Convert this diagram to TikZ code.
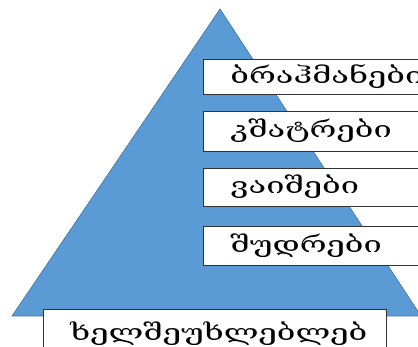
\documentclass[tikz,border=0pt]{standalone}
\usepackage{fontspec}
\newfontfamily\geofont[Script=Georgian, FakeStretch=1.45]{DejaVu Serif}
\definecolor{pyrblue}{HTML}{5B9BD5}
\definecolor{pyredge}{HTML}{41719C}
\tikzset{
  caste/.style={draw=black!80, line width=0.9pt, fill=white, anchor=west,
    minimum height=#1, text width=186pt, inner xsep=27pt, align=left,
    font=\geofont\fontsize{22.5pt}{24pt}\selectfont},
  caste/.default=36pt
}

\begin{document}
\begin{tikzpicture}[x=1pt,y=-1pt]
    \useasboundingbox (0,0) rectangle (418,347);
    \clip (0,0) rectangle (418,347);
    % pyramid
    \draw[pyredge, fill=pyrblue, line width=0.6pt] (12,316) -- (220,9) -- (421,316) -- cycle;
    % the four varnas
    \foreach \name/\y/\h/\txt in {brahmins/76.5/35pt/ბრაჰმანები, kshatriyas/131/40pt/კშატრები,
                                  vaishyas/187/38pt/ვაიშები, shudras/245.5/39pt/შუდრები}
        \node[caste=\h] (\name) at (203,\y) {\txt};
    % outcasts
    \node[caste=50pt, text width=289pt] (outcasts) at (43,334) {ხელშეუხლებლებ};
\end{tikzpicture}
\end{document}
